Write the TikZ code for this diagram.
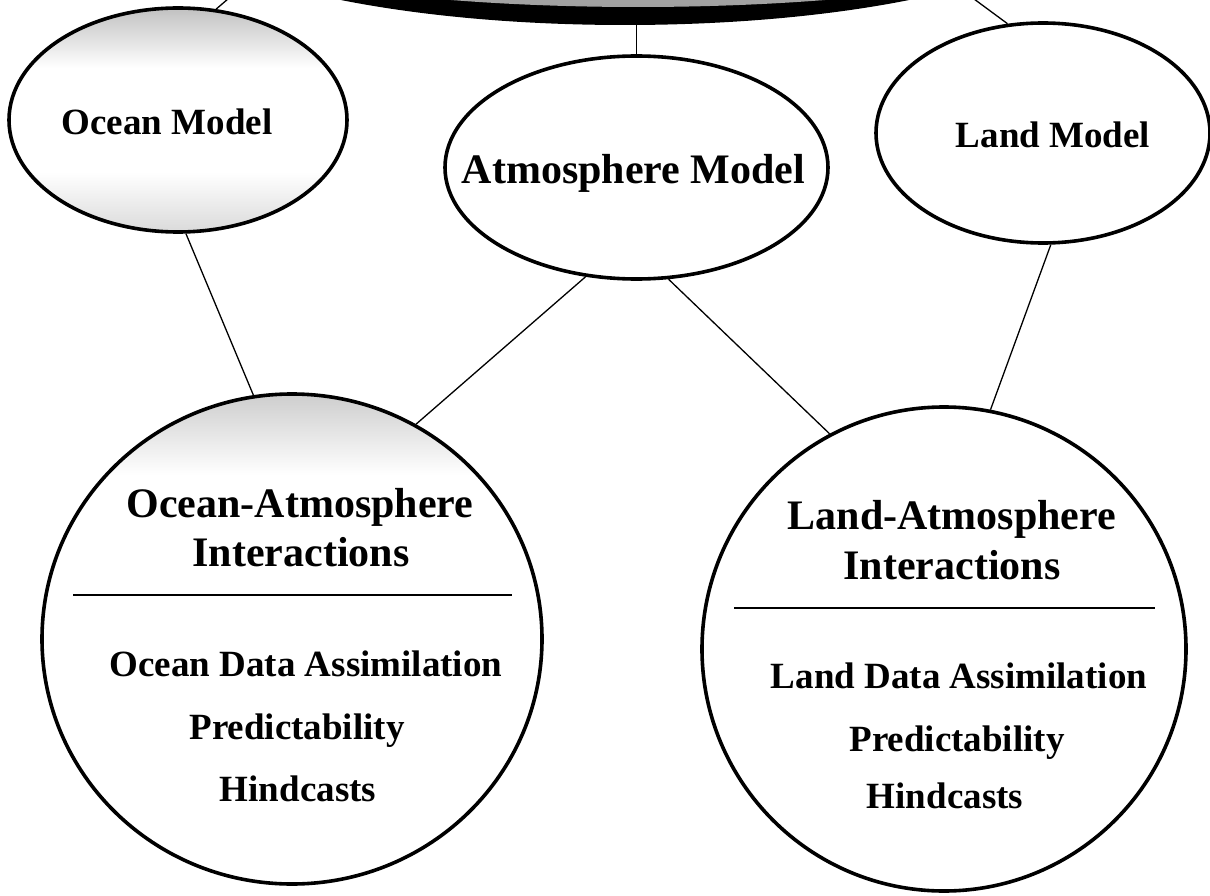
\documentclass[tikz,border=0pt]{standalone}
\usepackage{fontspec}
\setmainfont{Liberation Serif}
\usetikzlibrary{shapes.geometric}
\begin{document}
\begin{tikzpicture}[x=1pt,y=-1pt,
  model/.style={ellipse, draw=black, line width=3.6pt, inner sep=0pt},
  link/.style={draw=black, line width=1.3pt},
  lbl/.style={font=\bfseries\fontsize{37}{40}\selectfont, inner sep=0pt, anchor=base},
  head/.style={lbl, font=\bfseries\fontsize{42}{46}\selectfont},
  divider/.style={draw=black, line width=2pt}]

\useasboundingbox (0,0) rectangle (1210,896);
\clip (0,0) rectangle (1210,896);
\fill[white] (0,0) rectangle (1210,896);

% coupled model at the top: black rim with a shaded face
\node[ellipse, fill=black, inner sep=0pt, minimum width=930pt, minimum height=240pt] (coupled) at (625,-95) {};
\begin{scope}
  \clip (638,-98) ellipse [x radius=520, y radius=105];
  \shade[top color=gray!35, bottom color=gray!75] (100,-200) rectangle (1150,12);
\end{scope}

% faint shading inside the ocean ellipses
\begin{scope}
  \clip (178,120) ellipse [x radius=169, y radius=112];
  \shade[top color=gray!50, bottom color=white] (0,6) rectangle (360,68);
  \shade[top color=white, bottom color=gray!30] (0,172) rectangle (360,234);
\end{scope}
\begin{scope}
  \clip (292,639) ellipse [x radius=250, y radius=245];
  \shade[top color=gray!40, bottom color=white] (40,392) rectangle (545,475);
\end{scope}

% component models
\node[model, minimum width=338pt, minimum height=224pt] (ocean) at (178,120) {};
\node[model, minimum width=383pt, minimum height=223pt] (atm) at (636.5,167.5) {};
\node[model, minimum width=334pt, minimum height=220pt] (land) at (1043,133) {};

% interaction circles
\node[model, minimum width=500pt, minimum height=490pt] (oa) at (292,639) {};
\node[model, minimum width=484pt, minimum height=484pt] (la) at (944,649) {};

% labels
\node[lbl] (oceanlbl) at (167,135) {Ocean Model};
\node[head] (atmlbl) at (633.5,184) {Atmosphere Model};
\node[lbl] (landlbl) at (1053,148) {Land Model};

\node[head] (oah1) at (300,517) {Ocean-Atmosphere};
\node[head] (oah2) at (301,566) {Interactions};
\node[lbl] (oa1) at (306,676) {Ocean Data Assimilation};
\node[lbl] (oa2) at (297,739) {Predictability};
\node[lbl] (oa3) at (298,801) {Hindcasts};

\node[head] (lah1) at (952,529) {Land-Atmosphere};
\node[head] (lah2) at (952,579) {Interactions};
\node[lbl] (la1) at (959,688) {Land Data Assimilation};
\node[lbl] (la2) at (957,751) {Predictability};
\node[lbl] (la3) at (945,808) {Hindcasts};

% dividers inside the circles
\coordinate (oaL) at (73,595);
\coordinate (oaR) at (512,595);
\coordinate (laL) at (734,608);
\coordinate (laR) at (1155,608);
\draw[divider] (oaL) -- (oaR);
\draw[divider] (laL) -- (laR);

% connectors
\draw[link] (ocean.71.7) -- (coupled.191.4);
\draw[link] (land.108.3) -- (coupled.-14.4);
\draw[link] (atm.north) -- (atm.north |- coupled.south);
\draw[link] (ocean.-86.5) -- (oa.99.5);
\draw[link] (atm.-115) -- (oa.60.9);
\draw[link] (atm.-74.6) -- (la.118.6);
\draw[link] (land.-86.4) -- (la.79.5);
\end{tikzpicture}
\end{document}
